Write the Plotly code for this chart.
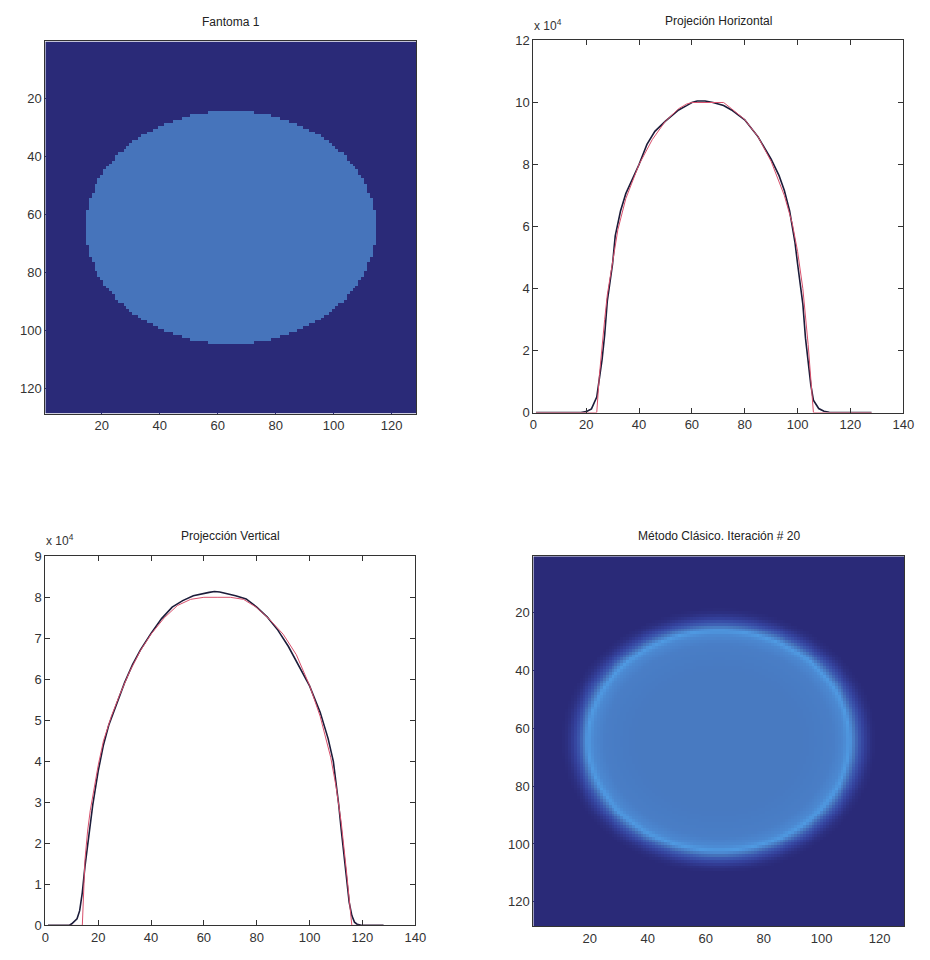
import numpy as np
import plotly.graph_objects as go

# ---- image grid -------------------------------------------------------
N_PIX = 128

# phantom: uniform ellipse (centre col/row, semi-axes, level on 0..1 scale)
PHANTOM_CENTER = (64.5, 64.5)
PHANTOM_AXES = (50.0, 40.0)
PHANTOM_LEVEL = 0.6

# reconstruction after 20 iterations: radial profile on the normalised
# elliptical radius (bright rim, soft halo outside)
RECON_CENTER = (64.5, 64.3)
RECON_AXES = (48.0, 40.5)
RECON_R = [0.0, 0.6, 0.82, 0.9, 0.94, 0.97, 1.0, 1.03, 1.06, 1.09, 1.13]
RECON_V = [0.64, 0.64, 0.67, 0.74, 0.85, 0.66, 0.45, 0.3, 0.17, 0.06, 0.0]

# ---- horizontal projection (units of 1e4) ----------------------------
H_REC_X = [1, 18, 20, 22, 24, 25, 26, 27, 28, 29, 30, 31, 33, 35, 38, 40, 43, 46, 50, 55,
           58, 60, 62, 65, 68, 70, 72, 75, 80, 85, 90, 93, 95, 97, 99, 100, 101, 102, 103, 104,
           105, 106, 108, 110, 112, 128]
H_REC_Y = [0, 0, 0.03, 0.12, 0.5, 1.03, 1.7, 2.5, 3.6, 4.2, 4.8, 5.7, 6.5, 7.06, 7.6, 8.0, 8.65, 9.07, 9.4, 9.76,
           9.9, 10.0, 10.05, 10.05, 10.0, 9.95, 9.9, 9.76, 9.44, 8.9, 8.17, 7.64, 7.16, 6.5, 5.5, 4.8, 4.2, 3.5, 2.4, 1.66,
           0.9, 0.4, 0.13, 0.04, 0.01, 0]
H_TRUE_X = [1, 24, 25, 26, 27, 28, 30, 32, 35, 40, 45, 50, 55, 58, 60, 66, 72, 75, 80, 85,
            90, 95, 98, 100, 102, 104, 105, 106, 128]
H_TRUE_Y = [0, 0, 1.2, 2.2, 3.0, 3.8, 4.9, 5.9, 6.9, 8.0, 8.8, 9.4, 9.8, 9.95, 10.0, 10.0, 10.0, 9.8, 9.45, 8.9,
            8.1, 7.0, 6.1, 5.2, 4.0, 2.2, 1.0, 0, 0]

# ---- vertical projection (units of 1e4) ------------------------------
V_REC_X = [1, 9, 10, 11, 12, 13, 14, 15, 16, 17, 18, 20, 22, 24, 26, 28, 30, 33, 36, 40,
           44, 48, 52, 56, 60, 62, 64, 66, 68, 72, 76, 80, 84, 88, 92, 96, 100, 104, 107, 109,
           110, 111, 112, 113, 114, 115, 116, 117, 118, 119, 120, 128]
V_REC_Y = [0, 0, 0.04, 0.09, 0.16, 0.36, 0.8, 1.44, 2.0, 2.5, 2.96, 3.76, 4.4, 4.88, 5.24, 5.6, 5.92, 6.36, 6.72, 7.12,
           7.48, 7.76, 7.92, 8.04, 8.1, 8.12, 8.14, 8.13, 8.1, 8.04, 7.96, 7.76, 7.52, 7.2, 6.8, 6.32, 5.84, 5.2, 4.56, 4.0,
           3.52, 2.96, 2.32, 1.68, 1.04, 0.56, 0.24, 0.08, 0.03, 0.01, 0, 0]
V_TRUE_X = [1, 14, 15, 16, 17, 18, 20, 22, 25, 28, 32, 36, 40, 45, 50, 55, 60, 65, 70, 75,
            80, 85, 90, 95, 100, 104, 108, 110, 112, 114, 115, 116, 128]
V_TRUE_Y = [0, 0, 1.6, 2.3, 2.8, 3.2, 3.9, 4.5, 5.1, 5.6, 6.2, 6.7, 7.1, 7.5, 7.8, 7.95, 8.0, 8.0, 8.0, 7.95,
            7.75, 7.45, 7.1, 6.6, 5.85, 5.1, 4.1, 3.4, 2.5, 1.3, 0.6, 0, 0]

TITLES = ["Fantoma 1", "Projeción Horizontal", "Projección Vertical", "Método Clásico. Iteración # 20"]
IMG_TICKS = [20, 40, 60, 80, 100, 120]
PROJ_X_TICKS = [0, 20, 40, 60, 80, 100, 120, 140]
H_Y_TICKS = [0, 2, 4, 6, 8, 10, 12]
V_Y_TICKS = [0, 1, 2, 3, 4, 5, 6, 7, 8, 9]

# ---- build the images --------------------------------------------------
cols = np.arange(1, N_PIX + 1)
C, R = np.meshgrid(cols, cols)

rho_ph = np.sqrt(((C - PHANTOM_CENTER[0]) / PHANTOM_AXES[0]) ** 2 +
                 ((R - PHANTOM_CENTER[1]) / PHANTOM_AXES[1]) ** 2)
phantom = np.where(rho_ph <= 1.0, PHANTOM_LEVEL, 0.0)

rho_rc = np.sqrt(((C - RECON_CENTER[0]) / RECON_AXES[0]) ** 2 +
                 ((R - RECON_CENTER[1]) / RECON_AXES[1]) ** 2)
recon = np.interp(rho_rc, RECON_R, RECON_V)

cscale = [
    [0.0, "#2a2a78"], [0.25, "#34419c"], [0.45, "#3d5cb2"], [0.6, "#4674bb"],
    [0.7, "#4a82cb"], [0.85, "#4f9ae2"], [1.0, "#58b0f0"],
]

FONT = "Liberation Sans, Arial, sans-serif"
W, H = 930, 960


def px_x(v):
    return v / W


def px_y(v):
    return 1 - v / H


# plot-area boxes in pixels: (left, top, right, bottom)
boxes = [(42, 35, 419, 413), (538, 34, 914, 412), (42, 558, 418, 933), (538, 558, 915, 934)]

fig = go.Figure()

fig.add_trace(go.Heatmap(z=phantom, x=cols, y=cols, colorscale=cscale, zmin=0, zmax=1,
                         showscale=False, xaxis="x", yaxis="y", hoverinfo="skip"))
fig.add_trace(go.Scatter(x=H_REC_X, y=H_REC_Y, mode="lines", line=dict(color="#1c1c3a", width=1.6),
                         xaxis="x2", yaxis="y2", showlegend=False))
fig.add_trace(go.Scatter(x=H_TRUE_X, y=H_TRUE_Y, mode="lines", line=dict(color="#d8506c", width=1),
                         xaxis="x2", yaxis="y2", showlegend=False))
fig.add_trace(go.Scatter(x=V_REC_X, y=V_REC_Y, mode="lines", line=dict(color="#1c1c3a", width=1.6),
                         xaxis="x3", yaxis="y3", showlegend=False))
fig.add_trace(go.Scatter(x=V_TRUE_X, y=V_TRUE_Y, mode="lines", line=dict(color="#d8506c", width=1),
                         xaxis="x3", yaxis="y3", showlegend=False))
fig.add_trace(go.Heatmap(z=recon, x=cols, y=cols, colorscale=cscale, zmin=0, zmax=1,
                         showscale=False, xaxis="x4", yaxis="y4", hoverinfo="skip"))

tickfont = dict(family=FONT, size=13, color="#333333")
common = dict(showline=True, linecolor="#333333", linewidth=1, mirror=True,
              showgrid=False, zeroline=False, tickfont=tickfont, fixedrange=True)

layout = dict(width=W, height=H, margin=dict(l=0, r=0, t=0, b=0),
              paper_bgcolor="white", plot_bgcolor="white", showlegend=False,
              font=dict(family=FONT, color="#333333"))

for i, (l, t, r, b) in enumerate(boxes):
    sx = "" if i == 0 else str(i + 1)
    xa = dict(common, domain=[px_x(l), px_x(r)], anchor="y" + sx)
    ya = dict(common, domain=[px_y(b), px_y(t)], anchor="x" + sx)
    if i in (0, 3):
        xa.update(range=[0.5, N_PIX + 0.5], tickvals=IMG_TICKS, ticks="inside", ticklen=4,
                  tickcolor="#2a2a78")
        ya.update(range=[N_PIX + 0.5, 0.5], tickvals=IMG_TICKS, ticks="inside", ticklen=4,
                  tickcolor="#2a2a78")
    else:
        yt = H_Y_TICKS if i == 1 else V_Y_TICKS
        xa.update(range=[0, 140], tickvals=PROJ_X_TICKS, ticks="inside", ticklen=5,
                  tickcolor="#333333", mirror="ticks")
        ya.update(range=[yt[0], yt[-1]], tickvals=yt, ticks="inside", ticklen=5,
                  tickcolor="#333333", mirror="ticks")
    layout["xaxis" + sx] = xa
    layout["yaxis" + sx] = ya

annotations = []
for (l, t, r, b), title in zip(boxes, TITLES):
    annotations.append(dict(text=title, x=px_x((l + r) / 2), y=px_y(t - 11), xref="paper", yref="paper",
                            xanchor="center", yanchor="bottom", showarrow=False,
                            font=dict(family=FONT, size=12, color="#222222")))
for (l, t, r, b) in (boxes[1], boxes[2]):
    annotations.append(dict(text="x 10<sup>4</sup>", x=px_x(l - 1), y=px_y(t - 6), xref="paper", yref="paper",
                            xanchor="left", yanchor="bottom", showarrow=False,
                            font=dict(family=FONT, size=12, color="#333333")))
layout["annotations"] = annotations

fig.update_layout(**layout)
fig.write_html("out.html")
